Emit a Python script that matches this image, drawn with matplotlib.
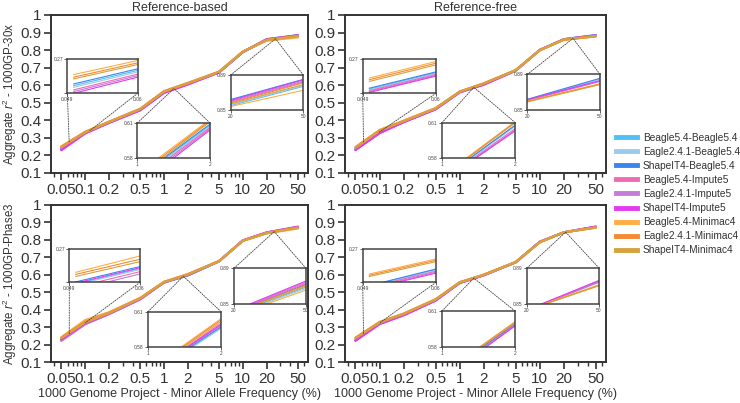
import matplotlib
matplotlib.use("Agg")
import matplotlib.pyplot as plt
import numpy as np
from matplotlib.patches import ConnectionPatch
from matplotlib.ticker import FixedLocator, LogLocator, NullFormatter
from matplotlib.lines import Line2D

plt.rcParams['font.family'] = ['Liberation Sans', 'DejaVu Sans']
plt.rcParams['mathtext.fontset'] = 'custom'
plt.rcParams['mathtext.rm'] = 'Liberation Sans'
plt.rcParams['mathtext.it'] = 'Liberation Sans:italic'

# ---------------- data ----------------
maf = [0.05, 0.1, 0.2, 0.5, 1, 2, 5, 10, 20, 50]
maf_ticklabels = ["0.05", "0.1", "0.2", "0.5", "1", "2", "5", "10", "20", "50"]
y_ticks = [0.1, 0.2, 0.3, 0.4, 0.5, 0.6, 0.7, 0.8, 0.9, 1.0]
y_ticklabels = ["0.1", "0.2", "0.3", "0.4", "0.5", "0.6", "0.7", "0.8", "0.9", "1"]

series_names = ["Beagle5.4-Beagle5.4", "Eagle2.4.1-Beagle5.4", "ShapeIT4-Beagle5.4",
                "Beagle5.4-Impute5", "Eagle2.4.1-Impute5", "ShapeIT4-Impute5",
                "Beagle5.4-Minimac4", "Eagle2.4.1-Minimac4", "ShapeIT4-Minimac4"]
series_colors = ["#4FC1F5", "#9CCBEA", "#3B86EE", "#F06AB2", "#C57BD8", "#E23BEF",
                 "#FFAE45", "#F58A33", "#D6A23E"]

# Reference-based, 1000GP-30x
ref_based_30x = [
    [0.239, 0.329, 0.389, 0.461, 0.5621, 0.608, 0.675, 0.790, 0.855, 0.877],
    [0.237, 0.328, 0.388, 0.460, 0.5605, 0.607, 0.675, 0.789, 0.856, 0.878],
    [0.241, 0.330, 0.389, 0.462, 0.5630, 0.609, 0.676, 0.790, 0.862, 0.885],
    [0.234, 0.327, 0.387, 0.459, 0.5596, 0.606, 0.674, 0.789, 0.859, 0.882],
    [0.232, 0.326, 0.386, 0.458, 0.5578, 0.605, 0.674, 0.788, 0.860, 0.883],
    [0.230, 0.325, 0.385, 0.457, 0.5560, 0.604, 0.673, 0.789, 0.861, 0.8845],
    [0.252, 0.335, 0.392, 0.466, 0.5665, 0.613, 0.677, 0.792, 0.854, 0.8725],
    [0.249, 0.333, 0.391, 0.465, 0.5649, 0.612, 0.677, 0.791, 0.858, 0.881],
    [0.247, 0.331, 0.390, 0.464, 0.5633, 0.611, 0.676, 0.791, 0.857, 0.879],
]
# Reference-free, 1000GP-30x
ref_free_30x = [
    [0.235, 0.331, 0.392, 0.465, 0.5617, 0.6075, 0.684, 0.801, 0.8615, 0.885],
    [0.234, 0.330, 0.392, 0.465, 0.5612, 0.607, 0.684, 0.800, 0.861, 0.8845],
    [0.236, 0.332, 0.393, 0.466, 0.5621, 0.608, 0.685, 0.801, 0.862, 0.8855],
    [0.233, 0.329, 0.391, 0.464, 0.5604, 0.605, 0.684, 0.801, 0.861, 0.8825],
    [0.232, 0.328, 0.390, 0.463, 0.5596, 0.604, 0.683, 0.800, 0.8605, 0.882],
    [0.231, 0.327, 0.390, 0.463, 0.5596, 0.603, 0.683, 0.801, 0.8615, 0.883],
    [0.248, 0.345, 0.398, 0.470, 0.5640, 0.611, 0.686, 0.800, 0.860, 0.8795],
    [0.246, 0.343, 0.397, 0.469, 0.5636, 0.6105, 0.686, 0.800, 0.8595, 0.879],
    [0.244, 0.341, 0.396, 0.468, 0.5631, 0.610, 0.685, 0.799, 0.859, 0.8785],
]
# Reference-based, 1000GP-Phase3
ref_based_p3 = [
    [0.228, 0.320, 0.376, 0.461, 0.5553, 0.5965, 0.677, 0.796, 0.839, 0.8688],
    [0.227, 0.319, 0.376, 0.461, 0.5545, 0.5956, 0.677, 0.796, 0.838, 0.8675],
    [0.2305, 0.3225, 0.377, 0.462, 0.5565, 0.597, 0.678, 0.796, 0.841, 0.872],
    [0.224, 0.318, 0.375, 0.460, 0.5574, 0.600, 0.678, 0.797, 0.8415, 0.8732],
    [0.221, 0.316, 0.374, 0.459, 0.5571, 0.598, 0.677, 0.796, 0.842, 0.8745],
    [0.229, 0.3215, 0.377, 0.462, 0.5568, 0.599, 0.678, 0.797, 0.8427, 0.8758],
    [0.242, 0.340, 0.385, 0.468, 0.5596, 0.604, 0.679, 0.795, 0.837, 0.8656],
    [0.2395, 0.3305, 0.382, 0.466, 0.5588, 0.603, 0.679, 0.795, 0.840, 0.8712],
    [0.237, 0.326, 0.380, 0.465, 0.5585, 0.6015, 0.678, 0.794, 0.8395, 0.870],
]
# Reference-free, 1000GP-Phase3
ref_free_p3 = [
    [0.2255, 0.3245, 0.371, 0.454, 0.5551, 0.5988, 0.672, 0.789, 0.843, 0.8743],
    [0.225, 0.323, 0.370, 0.454, 0.5545, 0.5985, 0.672, 0.788, 0.8425, 0.874],
    [0.226, 0.326, 0.372, 0.455, 0.5558, 0.599, 0.673, 0.789, 0.8432, 0.8748],
    [0.224, 0.321, 0.369, 0.453, 0.5541, 0.598, 0.672, 0.789, 0.8428, 0.875],
    [0.223, 0.319, 0.369, 0.453, 0.5535, 0.5977, 0.671, 0.788, 0.843, 0.8755],
    [0.222, 0.317, 0.368, 0.452, 0.5528, 0.5974, 0.671, 0.789, 0.8435, 0.8762],
    [0.240, 0.330, 0.378, 0.460, 0.5573, 0.601, 0.673, 0.787, 0.8433, 0.8715],
    [0.2385, 0.328, 0.377, 0.459, 0.5569, 0.6005, 0.673, 0.787, 0.8433, 0.8706],
    [0.237, 0.326, 0.376, 0.458, 0.5565, 0.600, 0.672, 0.786, 0.843, 0.8703],
]

# inset zoom windows
inset_xlims = [(0.049, 0.06), (1, 2), (20, 50)]
inset_ylims = [(0.23, 0.27), (0.58, 0.61), (0.85, 0.89)]
inset_xlabels = [("0.049", "0.06"), ("1", "2"), ("20", "50")]
inset_ylabels = [("", "0.27"), ("0.58", "0.61"), ("0.85", "0.89")]

# ---------------- layout (figure pixels) ----------------
W, H = 740, 403
fig = plt.figure(figsize=(W / 100, H / 100), dpi=100)

def px_rect(l, t, r, b):
    return [l / W, 1 - b / H, (r - l) / W, (b - t) / H]

panels = [
    dict(data=ref_based_30x, rect=(51, 15, 308, 173), title="Reference-based",
         ylabel="Aggregate $r^2$ - 1000GP-30x", xlabel=False,
         insets=[(67.3, 59.3, 137.7, 93.3), (137.3, 123, 210, 158), (230.7, 75, 303.3, 110)],
         targets=[(0.063, 0.115), (1.34, 1.34), (26, 26)]),
    dict(data=ref_free_30x, rect=(345, 15, 606, 173), title="Reference-free",
         ylabel=None, xlabel=False,
         insets=[(362.7, 59.3, 436, 93.3), (442, 122.7, 515.3, 157.7), (527.3, 74.3, 600, 110)],
         targets=[(0.063, 0.098), (1.5, 1.5), (26, 26)]),
    dict(data=ref_based_p3, rect=(51, 205, 308, 362), title=None,
         ylabel="Aggregate $r^2$ - 1000GP-Phase3", xlabel=True,
         insets=[(69.3, 249, 140, 282.3), (148, 311.7, 221, 346.7), (234, 268.3, 306, 304)],
         targets=[(0.063, 0.1), (1.76, 1.76), (25, 25)]),
    dict(data=ref_free_p3, rect=(345, 205, 606, 362), title=None,
         ylabel=None, xlabel=True,
         insets=[(362.7, 249, 436, 282.3), (442, 311, 515, 346.7), (527, 268, 599, 304)],
         targets=[(0.063, 0.1), (1.5, 1.5), (21, 21)]),
]

spine_col = "#333333"
for p in panels:
    ax = fig.add_axes(px_rect(*p["rect"]))
    for vals, c in zip(p["data"], series_colors):
        ax.plot(maf, vals, color=c, lw=1.6, solid_capstyle='round')
    ax.set_xscale("log")
    ax.set_xlim(0.037, 67)
    ax.set_ylim(0.1, 1.0)
    ax.xaxis.set_major_locator(FixedLocator(maf))
    ax.set_xticklabels(maf_ticklabels)
    ax.xaxis.set_minor_locator(LogLocator(base=10, subs=np.arange(2, 10)))
    ax.xaxis.set_minor_formatter(NullFormatter())
    ax.set_yticks(y_ticks)
    ax.set_yticklabels(y_ticklabels)
    ax.tick_params(axis='both', which='major', labelsize=11, length=5, width=1.2,
                   color=spine_col, labelcolor="#333333", pad=2)
    ax.tick_params(axis='x', which='minor', length=3, width=1.0, color=spine_col)
    for s in ax.spines.values():
        s.set_color(spine_col)
        s.set_linewidth(1.4)
    if p["title"]:
        ax.set_title(p["title"], fontsize=9, pad=3, color="#333333")
    if p["ylabel"]:
        ax.set_ylabel(p["ylabel"], fontsize=8.3, labelpad=0.5, color="#333333")
    if p["xlabel"]:
        ax.set_xlabel("1000 Genome Project - Minor Allele Frequency (%)", fontsize=9,
                      labelpad=2, color="#333333")

    mean_vals = np.mean(np.array(p["data"]), axis=0)
    for k, irect in enumerate(p["insets"]):
        iax = fig.add_axes(px_rect(*irect))
        for vals, c in zip(p["data"], series_colors):
            iax.plot(maf, vals, color=c, lw=0.8)
        iax.set_xlim(*inset_xlims[k])
        iax.set_ylim(*inset_ylims[k])
        iax.set_xticks(list(inset_xlims[k]))
        iax.set_xticklabels(list(inset_xlabels[k]))
        iax.set_yticks(list(inset_ylims[k]))
        iax.set_yticklabels(list(inset_ylabels[k]))
        iax.tick_params(labelsize=3.5, length=2, width=0.6, pad=1, colors="#444444")
        for s in iax.spines.values():
            s.set_color("#444444")
            s.set_linewidth(1.1)
        # connectors
        tx = p["targets"][k]
        corners = [(0, 0), (1, 0)] if k == 0 else [(0, 1), (1, 1)]
        for corner, xt in zip(corners, tx):
            yt = float(np.interp(np.log10(xt), np.log10(maf), mean_vals))
            con = ConnectionPatch(xyA=corner, coordsA=iax.transAxes,
                                  xyB=(xt, yt), coordsB=ax.transData,
                                  linestyle=(0, (1.5, 1.5)), color="#444444", lw=0.6)
            fig.add_artist(con)

handles = [Line2D([0], [0], color=c, lw=3.5) for c in series_colors]
fig.legend(handles, series_names, loc="center left", bbox_to_anchor=(616 / W, 1 - 194 / H),
           frameon=False, fontsize=7.3, handlelength=2.1, handletextpad=0.55,
           labelspacing=0.4, borderaxespad=0, borderpad=0, labelcolor="#333333")

fig.savefig("out.png", dpi=100)
